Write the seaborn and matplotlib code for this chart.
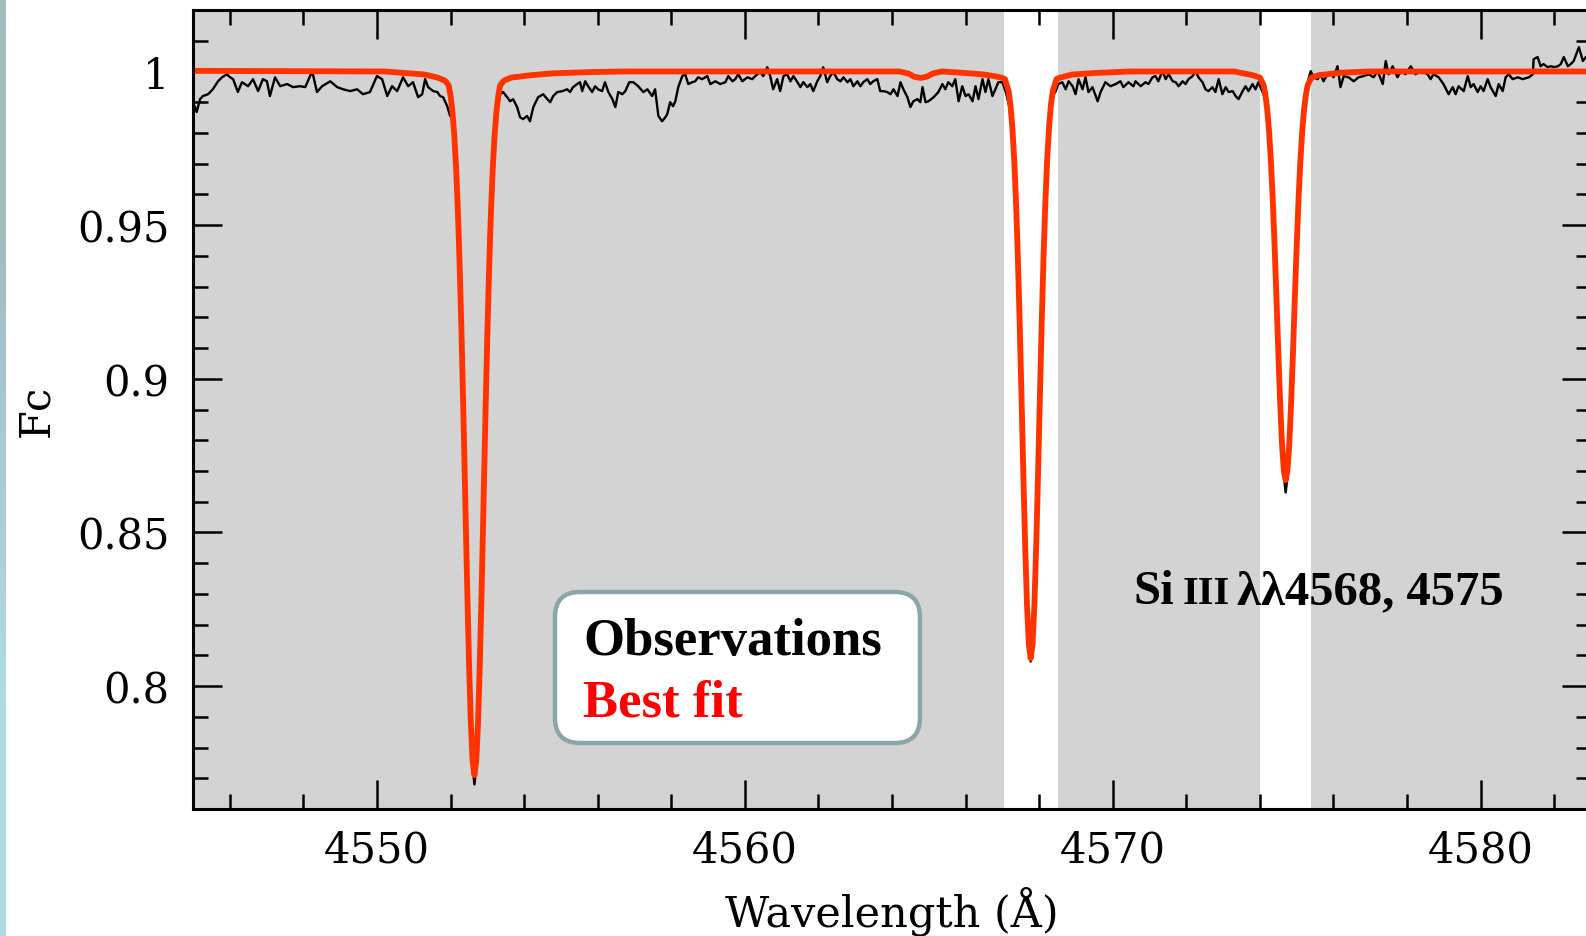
import numpy as np
import matplotlib
matplotlib.use("Agg")
import matplotlib.pyplot as plt
import seaborn as sns
from matplotlib.patches import FancyBboxPatch
from matplotlib.ticker import MultipleLocator

# ---------------- data ----------------
obs_wave = [
    4545.00, 4545.10, 4545.19, 4545.27, 4545.41, 4545.54, 4545.68, 4545.79, 4545.92, 4546.01,
    4546.09, 4546.22, 4546.33, 4546.50, 4546.63, 4546.77, 4546.90, 4547.01, 4547.09, 4547.23,
    4547.37, 4547.56, 4547.72, 4547.91, 4548.05, 4548.24, 4548.37, 4548.51, 4548.73, 4548.92,
    4549.08, 4549.27, 4549.46, 4549.62, 4549.81, 4550.00, 4550.14, 4550.28, 4550.41, 4550.55,
    4550.71, 4550.85, 4550.98, 4551.12, 4551.23, 4551.31, 4551.39, 4551.53, 4551.64, 4551.72,
    4551.80, 4551.91, 4551.99,
    4552.05, 4552.10, 4552.20, 4552.30, 4552.40, 4552.50, 4552.58, 4552.65, 4552.72, 4552.80,
    4552.90, 4553.00, 4553.10, 4553.20,
    4553.27, 4553.35, 4553.43, 4553.54, 4553.62, 4553.70, 4553.81, 4553.89, 4553.97, 4554.08,
    4554.16, 4554.25, 4554.38, 4554.52, 4554.63, 4554.71, 4554.79, 4554.90, 4555.04, 4555.17,
    4555.25, 4555.33, 4555.44, 4555.52, 4555.58, 4555.66, 4555.74, 4555.85, 4555.93, 4556.01,
    4556.12, 4556.20, 4556.29, 4556.40, 4556.48, 4556.56, 4556.67, 4556.75, 4556.86, 4556.97,
    4557.10, 4557.24, 4557.35, 4557.48, 4557.56, 4557.65, 4557.75, 4557.84,
    4557.89, 4557.97, 4558.05, 4558.11, 4558.19, 4558.30, 4558.38, 4558.46, 4558.57, 4558.65,
    4558.73, 4558.84, 4558.98, 4559.06, 4559.20, 4559.33, 4559.47, 4559.55, 4559.66, 4559.74,
    4559.82, 4559.93, 4560.07, 4560.20, 4560.34, 4560.42, 4560.50, 4560.61, 4560.69, 4560.77,
    4560.88, 4560.96, 4561.05, 4561.15, 4561.24, 4561.32, 4561.43, 4561.51, 4561.59, 4561.70,
    4561.78, 4561.86, 4561.97, 4562.05, 4562.13, 4562.24, 4562.32, 4562.41, 4562.51, 4562.60,
    4562.68, 4562.79, 4562.87, 4562.95, 4563.06, 4563.14, 4563.22, 4563.33, 4563.41, 4563.49,
    4563.60, 4563.68, 4563.77, 4563.87, 4563.96, 4564.04, 4564.15, 4564.23, 4564.31, 4564.42,
    4564.50, 4564.58, 4564.69, 4564.77, 4564.83, 4564.91, 4564.99, 4565.13, 4565.26, 4565.37,
    4565.45, 4565.53, 4565.64, 4565.72, 4565.81, 4565.91, 4566.00, 4566.08, 4566.19, 4566.27,
    4566.35, 4566.46, 4566.54, 4566.62, 4566.73, 4566.81, 4566.89, 4567.00,
    4567.10, 4567.20, 4567.30, 4567.40, 4567.50, 4567.60, 4567.70, 4567.77, 4567.85, 4567.95,
    4568.05, 4568.15, 4568.25, 4568.35,
    4568.44, 4568.52, 4568.63, 4568.72, 4568.80, 4568.91, 4568.99, 4569.07, 4569.18, 4569.26,
    4569.34, 4569.45, 4569.59, 4569.67, 4569.80, 4569.94, 4570.08, 4570.21, 4570.29, 4570.43,
    4570.56, 4570.62, 4570.76, 4570.89, 4570.97, 4571.08, 4571.16, 4571.24, 4571.35, 4571.44,
    4571.52, 4571.63, 4571.71, 4571.79, 4571.90, 4571.98, 4572.06, 4572.17, 4572.25, 4572.33,
    4572.44, 4572.52, 4572.60, 4572.71, 4572.79, 4572.88, 4572.98, 4573.07, 4573.15, 4573.26,
    4573.34, 4573.42, 4573.53, 4573.61, 4573.69, 4573.80, 4573.88, 4573.96, 4574.07,
    4574.15, 4574.25, 4574.35, 4574.45, 4574.55, 4574.62, 4574.70, 4574.78, 4574.85, 4574.95,
    4575.05, 4575.15, 4575.25, 4575.32,
    4575.38, 4575.46, 4575.57, 4575.65, 4575.73, 4575.84, 4575.92, 4576.00, 4576.11, 4576.19,
    4576.28, 4576.41, 4576.55, 4576.68, 4576.82, 4576.96, 4577.09, 4577.20, 4577.34, 4577.42,
    4577.50, 4577.61, 4577.74, 4577.83, 4577.96, 4578.10, 4578.23, 4578.37, 4578.56, 4578.64,
    4578.72, 4578.86, 4578.99, 4579.13, 4579.24, 4579.32, 4579.40, 4579.54, 4579.65, 4579.73,
    4579.81, 4579.92, 4580.00, 4580.08, 4580.19, 4580.27, 4580.41, 4580.49, 4580.60, 4580.68,
    4580.76, 4580.87, 4581.01, 4581.14, 4581.31, 4581.42, 4581.44, 4581.55, 4581.63, 4581.71,
    4581.82, 4581.91, 4581.99, 4582.10, 4582.18, 4582.26, 4582.37, 4582.45, 4582.53, 4582.67,
    4582.78, 4582.86, 4583.00,
]
obs_flux = [
    0.9900, 0.9868, 0.9910, 0.9920, 0.9926, 0.9942, 0.9968, 0.9981, 0.9991, 0.9981,
    0.9975, 0.9933, 0.9965, 0.9952, 0.9975, 0.9936, 0.9975, 0.9968, 0.9920, 0.9981,
    0.9952, 0.9959, 0.9949, 0.9952, 0.9949, 1.0001, 0.9933, 0.9952, 0.9968, 0.9949,
    0.9942, 0.9936, 0.9942, 0.9926, 0.9933, 0.9985, 0.9975, 0.9920, 0.9952, 0.9936,
    0.9981, 0.9952, 0.9965, 0.9916, 0.9926, 0.9975, 0.9949, 0.9936, 0.9933, 0.9920,
    0.9916, 0.9887, 0.9855,
    0.9850, 0.9780, 0.9530, 0.9120, 0.8580, 0.8050, 0.7760, 0.7680, 0.7760, 0.8060,
    0.8590, 0.9130, 0.9540, 0.9790,
    0.9871, 0.9926, 0.9933, 0.9916, 0.9903, 0.9910, 0.9884, 0.9851, 0.9845, 0.9855,
    0.9838, 0.9884, 0.9916, 0.9926, 0.9910, 0.9900, 0.9920, 0.9933, 0.9936, 0.9942,
    0.9933, 0.9949, 0.9959, 0.9965, 0.9936, 0.9968, 0.9952, 0.9933, 0.9952, 0.9942,
    0.9936, 0.9965, 0.9933, 0.9910, 0.9884, 0.9933, 0.9926, 0.9936, 0.9965, 0.9965,
    0.9952, 0.9933, 0.9942, 0.9920, 0.9942, 0.9855, 0.9838, 0.9851,
    0.9861, 0.9900, 0.9887, 0.9903, 0.9949, 0.9985, 0.9991, 0.9959, 0.9965, 0.9968,
    0.9981, 0.9975, 0.9985, 0.9959, 0.9968, 0.9959, 0.9965, 0.9985, 0.9968, 0.9975,
    0.9991, 0.9968, 0.9981, 0.9975, 0.9991, 0.9998, 0.9985, 1.0014, 0.9985, 0.9942,
    0.9975, 0.9936, 0.9985, 0.9991, 0.9968, 0.9985, 0.9965, 0.9949, 0.9965, 0.9949,
    0.9959, 0.9936, 0.9968, 0.9985, 1.0014, 0.9965, 0.9985, 0.9998, 0.9975, 0.9968,
    0.9981, 0.9965, 0.9975, 0.9952, 0.9968, 0.9952, 0.9965, 0.9975, 0.9959, 0.9968,
    0.9975, 0.9936, 0.9936, 0.9933, 0.9926, 0.9942, 0.9920, 0.9965, 0.9942, 0.9916,
    0.9884, 0.9903, 0.9910, 0.9900, 0.9949, 0.9900, 0.9903, 0.9916, 0.9933, 0.9959,
    0.9942, 0.9965, 0.9952, 0.9975, 0.9903, 0.9952, 0.9920, 0.9926, 0.9903, 0.9952,
    0.9910, 0.9975, 0.9933, 0.9975, 0.9920, 0.9942, 0.9965, 0.9965,
    0.9930, 0.9880, 0.9760, 0.9480, 0.9050, 0.8580, 0.8200, 0.8080, 0.8190, 0.8570,
    0.9060, 0.9500, 0.9800, 0.9920,
    0.9933, 0.9959, 0.9965, 0.9942, 0.9968, 0.9952, 0.9926, 0.9975, 0.9942, 0.9981,
    0.9933, 0.9949, 0.9903, 0.9933, 0.9965, 0.9952, 0.9959, 0.9968, 0.9949, 0.9965,
    0.9952, 0.9968, 0.9952, 0.9965, 0.9959, 0.9981, 0.9985, 0.9968, 1.0001, 0.9975,
    0.9991, 0.9968, 0.9965, 0.9952, 0.9968, 0.9959, 0.9975, 0.9985, 1.0001, 0.9981,
    0.9965, 0.9942, 0.9936, 0.9949, 0.9933, 0.9975, 0.9926, 0.9949, 0.9933, 0.9936,
    0.9920, 0.9910, 0.9936, 0.9952, 0.9936, 0.9959, 0.9942, 0.9965, 0.9933,
    0.9910, 0.9790, 0.9560, 0.9240, 0.8900, 0.8720, 0.8630, 0.8710, 0.8900, 0.9250,
    0.9570, 0.9800, 0.9920, 0.9975,
    1.0001, 0.9981, 0.9975, 0.9991, 0.9968, 0.9991, 0.9998, 0.9981, 1.0017, 0.9949,
    0.9985, 0.9981, 0.9968, 0.9981, 0.9985, 0.9991, 0.9981, 1.0001, 0.9959, 1.0034,
    0.9991, 1.0017, 0.9981, 1.0001, 0.9991, 1.0017, 0.9991, 1.0001, 0.9991, 0.9975,
    0.9991, 0.9981, 0.9959, 0.9926, 0.9949, 0.9926, 0.9952, 0.9936, 0.9985, 0.9949,
    0.9959, 0.9933, 0.9952, 0.9936, 0.9975, 0.9949, 0.9920, 0.9959, 0.9936, 0.9981,
    0.9991, 0.9975, 0.9981, 0.9975, 0.9981, 0.9991, 1.0040, 1.0047, 1.0017, 1.0024,
    1.0014, 1.0017, 1.0014, 1.0017, 1.0024, 1.0047, 1.0017, 1.0024, 1.0034, 1.0079,
    1.0034, 1.0047, 1.0030,
]

fit_wave = [
    4545.00, 4550.20, 4551.30,
    4551.65, 4551.85, 4551.95, 4552.00, 4552.05, 4552.10, 4552.15, 4552.20, 4552.25, 4552.30,
    4552.35, 4552.40, 4552.45, 4552.50, 4552.55, 4552.60, 4552.65, 4552.70, 4552.75, 4552.80,
    4552.85, 4552.90, 4552.95, 4553.00, 4553.05, 4553.10, 4553.15, 4553.20, 4553.25, 4553.30,
    4553.35, 4553.45, 4553.65,
    4554.20, 4554.80, 4555.80, 4556.80,
    4564.20, 4564.45, 4564.60, 4564.78, 4564.95, 4565.10, 4565.35,
    4566.00, 4566.50, 4566.77, 4566.97, 4567.07, 4567.17, 4567.22, 4567.27, 4567.32, 4567.37,
    4567.42, 4567.47, 4567.52, 4567.57, 4567.62, 4567.67, 4567.72, 4567.77, 4567.82, 4567.87,
    4567.92, 4567.97, 4568.02, 4568.07, 4568.12, 4568.17, 4568.22, 4568.27, 4568.32, 4568.37,
    4568.47, 4568.57, 4568.90, 4569.50, 4570.50,
    4573.30, 4573.80, 4574.00, 4574.10, 4574.15, 4574.20, 4574.25, 4574.30, 4574.35, 4574.40,
    4574.45, 4574.50, 4574.55, 4574.60, 4574.65, 4574.70, 4574.75, 4574.80, 4574.85, 4574.90,
    4574.95, 4575.00, 4575.05, 4575.10, 4575.15, 4575.20, 4575.25, 4575.30, 4575.40, 4575.60,
    4576.20, 4577.00, 4583.00,
]
fit_flux = [
    1.0002, 1.0000, 0.9990,
    0.9980, 0.9970, 0.9955, 0.9922, 0.9871, 0.9796, 0.9690, 0.9547, 0.9363, 0.9141,
    0.8885, 0.8611, 0.8337, 0.8088, 0.7886, 0.7756, 0.7710, 0.7756, 0.7886, 0.8088,
    0.8337, 0.8611, 0.8885, 0.9141, 0.9363, 0.9547, 0.9690, 0.9796, 0.9871, 0.9922,
    0.9955, 0.9970, 0.9980,
    0.9988, 0.9994, 0.9998, 1.0000,
    1.0000, 0.9993, 0.9983, 0.9979, 0.9983, 0.9993, 1.0000,
    0.9995, 0.9990, 0.9985, 0.9980, 0.9975, 0.9936, 0.9891, 0.9820, 0.9718, 0.9579,
    0.9400, 0.9184, 0.8942, 0.8691, 0.8456, 0.8262, 0.8135, 0.8090, 0.8135, 0.8262,
    0.8456, 0.8691, 0.8942, 0.9184, 0.9400, 0.9579, 0.9718, 0.9820, 0.9891, 0.9936,
    0.9975, 0.9980, 0.9990, 0.9995, 1.0000,
    1.0000, 0.9988, 0.9980, 0.9956, 0.9924, 0.9875, 0.9804, 0.9707, 0.9582, 0.9432,
    0.9263, 0.9089, 0.8925, 0.8790, 0.8701, 0.8670, 0.8701, 0.8790, 0.8925, 0.9089,
    0.9263, 0.9432, 0.9582, 0.9707, 0.9804, 0.9875, 0.9924, 0.9956, 0.9980, 0.9988,
    0.9996, 1.0000, 1.0000,
]

band_lo = [4567.05, 4574.00]
band_hi = [4568.50, 4575.40]

x_ticks = [4550, 4560, 4570, 4580]
x_tick_labels = ["4550", "4560", "4570", "4580"]
y_ticks = [0.80, 0.85, 0.90, 0.95, 1.00]
y_tick_labels = ["0.8", "0.85", "0.9", "0.95", "1"]

legend_labels = ["Observations", "Best fit"]
legend_colors = ["#000000", "#ff0000"]

# ---------------- styling ----------------
sns.set_theme(style="ticks")
plt.rcParams["font.family"] = ["DejaVu Serif"]
for k in ["text.color", "axes.labelcolor", "xtick.color", "ytick.color", "axes.edgecolor"]:
    plt.rcParams[k] = "black"

W, H = 1586, 937
fig = plt.figure(figsize=(W / 100, H / 100), dpi=100)
fig.patch.set_facecolor("white")

# teal strip on the far left edge
ax_strip = fig.add_axes([0, 0, 6 / W, 1])
grad = np.array([[[160, 189, 194]], [[174, 220, 224]]]) / 255.0
ax_strip.imshow(grad, aspect="auto", interpolation="bilinear", extent=[0, 1, 0, 1])
ax_strip.set_axis_off()

ax = fig.add_axes([193 / W, 127 / H, 1398 / W, 799 / H])
ax.set_facecolor("#d3d3d3")
for lo, hi in zip(band_lo, band_hi):
    ax.axvspan(lo, hi, color="white", lw=0, zorder=0.5)

sns.lineplot(x=obs_wave, y=obs_flux, ax=ax, color="black", linewidth=1.7,
             estimator=None, sort=False, zorder=2)
sns.lineplot(x=fit_wave, y=fit_flux, ax=ax, color="#ff3300", linewidth=4.2,
             estimator=None, sort=False, zorder=3)

ax.set_xlim(4545, 4583)
ax.set_ylim(0.76, 1.02)
ax.set_xticks(x_ticks)
ax.set_xticklabels(x_tick_labels)
ax.xaxis.set_minor_locator(MultipleLocator(2))
ax.set_yticks(y_ticks)
ax.set_yticklabels(y_tick_labels)
ax.yaxis.set_minor_locator(MultipleLocator(0.01))
ax.tick_params(which="both", direction="in", top=True, right=True,
               color="black", width=1.8)
ax.tick_params(which="major", length=21, labelsize=30)
ax.tick_params(axis="x", which="major", pad=14)
ax.tick_params(axis="y", which="major", pad=17)
ax.tick_params(which="minor", length=11)
for s in ax.spines.values():
    s.set_linewidth(2.2)
    s.set_color("black")
    s.set_zorder(4)

ax.set_xlabel("Wavelength (Å)", fontsize=31, labelpad=11)
ax.set_ylabel("Fc", fontsize=30, labelpad=14)

# legend-like box
box = FancyBboxPatch((0.2589, 0.0826), 0.2611, 0.189,
                     boxstyle="round,pad=0,rounding_size=0.018",
                     mutation_aspect=1.75, transform=ax.transAxes,
                     facecolor="white", edgecolor="#8aa6aa", linewidth=3.2, zorder=5)
ax.add_patch(box)
for lab, col, yy in zip(legend_labels, legend_colors, [0.194, 0.1164]):
    ax.text(0.279, yy, lab, transform=ax.transAxes, fontsize=38, fontweight="bold",
            family="Liberation Serif", color=col, va="baseline", ha="left", zorder=6)

# line identification label
yb = 0.258
t1 = ax.text(0.673, yb, "Si", transform=ax.transAxes, fontsize=35, fontweight="bold",
             family="Liberation Serif", color="black", va="baseline", ha="left", zorder=6)
t2 = ax.annotate("III", xy=(1, yb), xycoords=(t1, ax.transAxes), xytext=(6, 0),
                 textcoords="offset points", fontsize=29, fontweight="bold",
                 family="Liberation Serif", color="black", va="baseline", ha="left", zorder=6)
t3 = ax.annotate("λλ4568, 4575", xy=(1, yb), xycoords=(t2, ax.transAxes), xytext=(5, 0),
                 textcoords="offset points", fontsize=35, fontweight="bold",
                 family="Liberation Serif", color="black", va="baseline", ha="left", zorder=6)

fig.savefig("out.png", dpi=100)
